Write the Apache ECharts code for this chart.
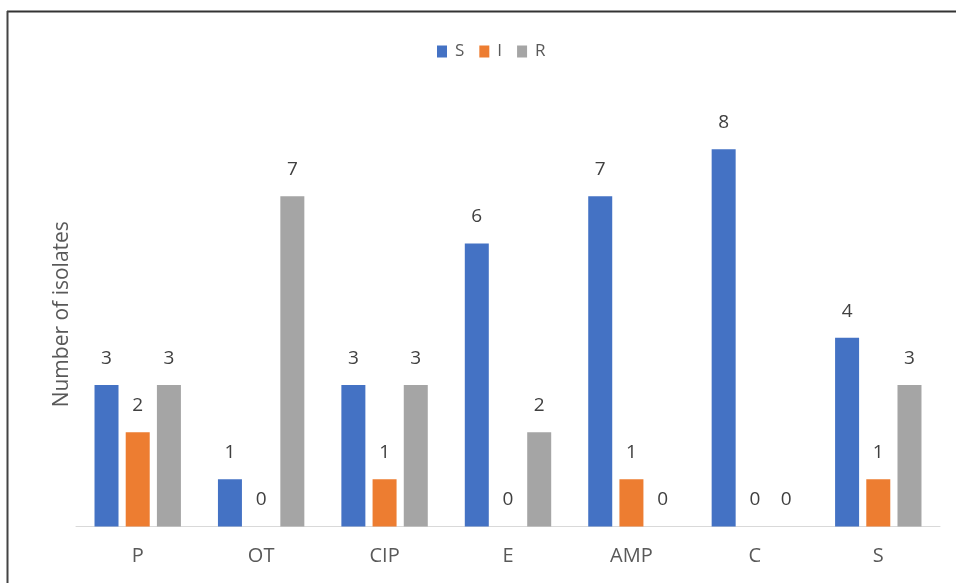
<!DOCTYPE html>
<html>
<head>
<meta charset="utf-8">
<script src="https://cdn.jsdelivr.net/npm/echarts@6/dist/echarts.min.js"></script>
<style>
  html, body { margin: 0; padding: 0; background: #fff; }
  #chart { width: 956px; height: 583px; }
</style>
</head>
<body>
<div id="chart"></div>
<script>
// antibiotics on the x axis
var categories = ['P', 'OT', 'CIP', 'E', 'AMP', 'C', 'S']
// susceptible / intermediate / resistant counts
var valuesS = [3, 1, 3, 6, 7, 8, 4]
var valuesI = [2, 0, 1, 0, 1, 0, 1]
var valuesR = [3, 7, 3, 2, 0, 0, 3]

var chart = echarts.init(document.getElementById('chart'))

var barLabel = {
    show: true,
    position: 'top',
    distance: 17,
    color: '#404040',
    fontSize: 19,
    fontFamily: 'Open Sans',
}

var option = {
    animation: false,
    backgroundColor: '#fff',
    textStyle: { fontFamily: 'Open Sans' },
    legend: {
        top: 38,
        left: 432,
        itemWidth: 10,
        itemHeight: 12,
        itemGap: 15,
        icon: 'rect',
        textStyle: { color: '#595959', fontSize: 17, padding: [0, 0, 0, 3] },
        data: ['S', 'I', 'R'],
    },
    grid: {
        left: 76,
        right: 16,
        top: 102,
        bottom: 56.5,
    },
    xAxis: {
        type: 'category',
        data: categories,
        axisLine: { lineStyle: { color: '#d9d9d9', width: 1 } },
        axisTick: { show: false },
        axisLabel: { color: '#595959', fontSize: 20, margin: 20 },
    },
    yAxis: {
        type: 'value',
        min: 0,
        max: 9,
        interval: 1,
        name: 'Number of isolates',
        nameLocation: 'middle',
        nameGap: 3,
        nameTextStyle: { color: '#595959', fontSize: 21 },
        axisLine: { show: false },
        axisTick: { show: false },
        axisLabel: { show: false },
        splitLine: { show: false },
    },
    series: [
        {
            name: 'S',
            type: 'bar',
            data: valuesS,
            barWidth: 24,
            barGap: '30%',
            itemStyle: { color: '#4472C4' },
            label: barLabel,
        },
        {
            name: 'I',
            type: 'bar',
            data: valuesI,
            barWidth: 24,
            barGap: '30%',
            itemStyle: { color: '#ED7D31' },
            label: barLabel,
        },
        {
            name: 'R',
            type: 'bar',
            data: valuesR,
            barWidth: 24,
            barGap: '30%',
            itemStyle: { color: '#A5A5A5' },
            label: barLabel,
        },
    ],
    graphic: [
        // frame lines visible at top and left of the picture
        {
            type: 'line',
            shape: { x1: 7, y1: 11.5, x2: 956, y2: 11.5 },
            style: { stroke: '#333', lineWidth: 2 },
        },
        {
            type: 'line',
            shape: { x1: 7.5, y1: 11, x2: 7.5, y2: 583 },
            style: { stroke: '#444', lineWidth: 2 },
        },
    ],
}

option && chart.setOption(option)
</script>
</body>
</html>
